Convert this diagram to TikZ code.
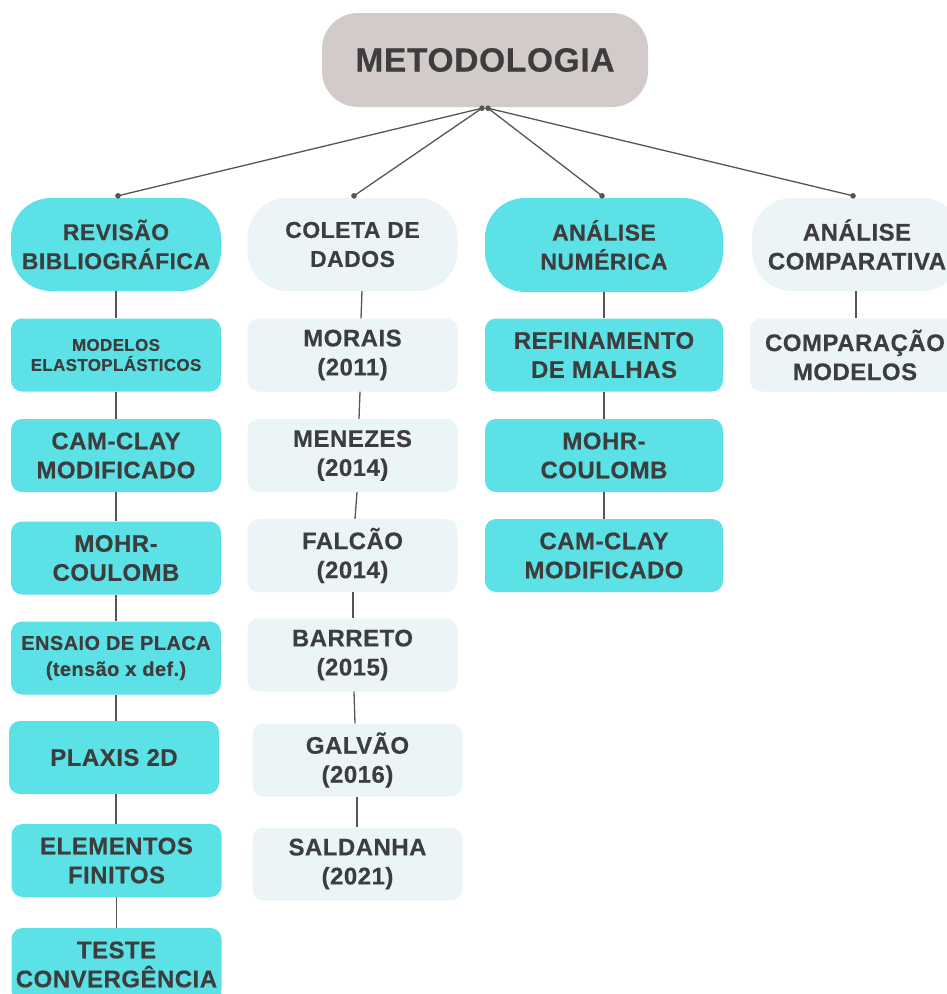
\documentclass[tikz,border=0pt]{standalone}
\usepackage{fontspec}
\newfontfamily\lblfont{Liberation Sans}[LetterSpace=2.0,FakeBold=0.4]
\definecolor{cy}{HTML}{5CE1E6}
\definecolor{lt}{HTML}{EBF5F7}
\definecolor{gr}{HTML}{D3CBCA}
\definecolor{txt}{HTML}{3D3D3D}
\definecolor{linec}{HTML}{555555}
\begin{document}
\begin{tikzpicture}[x=1pt,y=-1pt,
  base/.style={align=center, text=txt, inner sep=0pt, font=\lblfont\bfseries\fontsize{23}{29}\selectfont},
  pill/.style={base, rounded corners=40pt, minimum width=210pt, minimum height=93pt},
  cypill/.style={pill, fill=cy},
  ltpill/.style={pill, fill=lt},
  item/.style={base, rounded corners=11pt, minimum width=210pt, minimum height=73pt, font=\lblfont\bfseries\fontsize{24}{29}\selectfont},
  cyitem/.style={item, fill=cy},
  ltitem/.style={item, fill=lt},
  conn/.style={draw=linec, line width=1.3pt},
  dot/.style={fill=linec}
]
\useasboundingbox (0,0) rectangle (947,994);
\clip (0,0) rectangle (947,994);

% top node
\node[base, fill=gr, rounded corners=36pt, minimum width=326pt, minimum height=94pt,
      font=\lblfont\bfseries\fontsize{33.5}{40}\selectfont] (top) at (485,60) {METODOLOGIA};

% level 1
\node[cypill] (rev) at (116,244.5) {REVISÃO\\BIBLIOGRÁFICA};
\node[ltpill] (col) at (352.5,244.5) {COLETA DE\\DADOS};
\node[cypill, minimum width=238pt, minimum height=94pt] (num) at (604,245) {ANÁLISE\\NUMÉRICA};
\node[ltpill, font=\lblfont\bfseries\fontsize{24}{29}\selectfont] (cmp) at (857,244.5) {ANÁLISE\\COMPARATIVA};

% left column
\node[cyitem, font=\lblfont\bfseries\fontsize{17}{20}\selectfont] (l1) at (116,355) {MODELOS\\ELASTOPLÁSTICOS};
\node[cyitem] (l2) at (116,455.5) {CAM-CLAY\\MODIFICADO};
\node[cyitem] (l3) at (116,558) {MOHR-\\COULOMB};
\node[cyitem, font=\lblfont\bfseries\fontsize{20}{26}\selectfont] (l4) at (116,658) {ENSAIO DE PLACA\\(tensão x def.)};
\node[cyitem] (l5) at (114,757.5) {PLAXIS 2D};
\node[cyitem] (l6) at (116.5,860.5) {ELEMENTOS\\FINITOS};
\node[cyitem] (l7) at (116.5,964.5) {TESTE\\CONVERGÊNCIA};

% coleta column
\node[ltitem] (c1) at (352.5,355) {MORAIS\\(2011)};
\node[ltitem] (c2) at (352.5,455.5) {MENEZES\\(2014)};
\node[ltitem] (c3) at (352.5,555.5) {FALCÃO\\(2014)};
\node[ltitem] (c4) at (352.5,655) {BARRETO\\(2015)};
\node[ltitem] (c5) at (357.5,760) {GALVÃO\\(2016)};
\node[ltitem] (c6) at (357.5,864) {SALDANHA\\(2021)};

% numerica column
\node[cyitem, minimum width=238pt] (n1) at (604,355) {REFINAMENTO\\DE MALHAS};
\node[cyitem, minimum width=238pt] (n2) at (604,455.5) {MOHR-\\COULOMB};
\node[cyitem, minimum width=238pt] (n3) at (604,555.5) {CAM-CLAY\\MODIFICADO};

% comparativa column
\node[ltitem] (m1) at (855,355) {COMPARAÇÃO\\MODELOS};

% top connectors
\coordinate (tl) at ([xshift=-3pt,yshift=-1pt]top.south);
\coordinate (tr) at ([xshift=3pt,yshift=-1pt]top.south);
\coordinate (drev) at ([xshift=2pt,yshift=2pt]rev.north);
\coordinate (dcol) at ([xshift=1.5pt,yshift=2pt]col.north);
\coordinate (dnum) at ([xshift=-2pt,yshift=2pt]num.north);
\coordinate (dcmp) at ([xshift=-4pt,yshift=2pt]cmp.north);
\draw[conn] (tl) -- (drev);
\draw[conn] (tl) -- (dcol);
\draw[conn] (tr) -- (dnum);
\draw[conn] (tr) -- (dcmp);
\foreach \p in {tl,tr,drev,dcol,dnum,dcmp} \fill[dot] (\p) circle (2.8pt);

% left column connectors
\draw[conn] (rev.south) -- (rev.south |- l1.north);
\draw[conn] (l1.south) -- (l1.south |- l2.north);
\draw[conn] (l2.south) -- (l2.south |- l3.north);
\draw[conn] (l3.south) -- (l3.south |- l4.north);
\draw[conn] (l4.south) -- (l4.south |- l5.north);
\draw[conn] (l5.south -| l4.south) -- (l4.south |- l6.north);
\draw[conn] (l6.south) -- (l6.south |- l7.north);

% coleta connectors
\draw[conn] ([xshift=9.5pt]col.south) -- ([xshift=8.5pt]c1.north);
\draw[conn] ([xshift=7.5pt]c1.south) -- ([xshift=6.5pt]c2.north);
\draw[conn] ([xshift=4.5pt]c2.south) -- ([xshift=2.5pt]c3.north);
\draw[conn] ([xshift=0.5pt]c3.south) -- ([xshift=0.5pt]c4.north);
\draw[conn] ([xshift=1.5pt]c4.south) -- ([xshift=-2.5pt]c5.north);
\draw[conn] ([xshift=-0.5pt]c5.south) -- ([xshift=-0.5pt]c6.north);

% numerica connectors
\draw[conn] (num.south) -- (n1.north);
\draw[conn] (n1.south) -- (n2.north);
\draw[conn] (n2.south) -- (n3.north);

% comparativa connector
\draw[conn] ([xshift=-1pt]cmp.south) -- ([xshift=1pt]m1.north);
\end{tikzpicture}
\end{document}
